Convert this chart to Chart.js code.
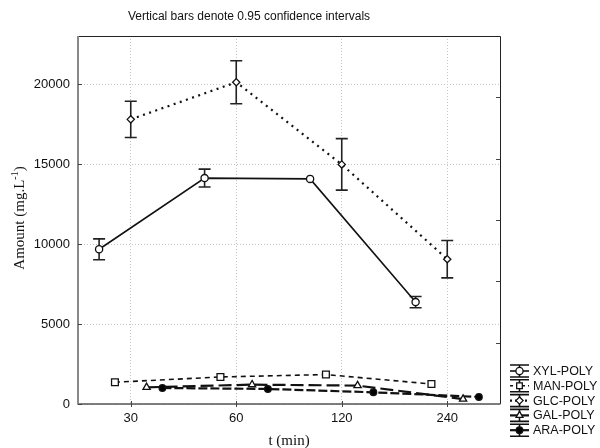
<!DOCTYPE html>
<html><head><meta charset="utf-8">
<script src="https://cdn.jsdelivr.net/npm/chart.js@4/dist/chart.umd.min.js"></script>
<style>html,body{margin:0;padding:0;background:#fff}#wrap{width:600px;height:448px;position:relative}</style>
</head><body><div id="wrap"><canvas id="c" width="600" height="448"></canvas></div>
<script>
// ---- data ----
const categories = ['30', '60', '120', '240'];
const seriesNames = ['XYL-POLY', 'MAN-POLY', 'GLC-POLY', 'GAL-POLY', 'ARA-POLY'];
const xylPoly = [9670, 14120, 14070, 6370];
const xylCI   = [650, 560, 0, 350];
const manPoly = [1360, 1690, 1840, 1250];
const manCI   = [0, 0, 0, 0];
const glcPoly = [17790, 20110, 14975, 9050];
const glcCI   = [1130, 1340, 1610, 1170];
const galPoly = [1040, 1210, 1150, 310];
const galCI   = [0, 0, 0, 0];
const araPoly = [1000, 940, 730, 440];
const araCI   = [0, 0, 0, 0];
const yTickValues = [0, 5000, 10000, 15000, 20000];
const titleText = 'Vertical bars denote 0.95 confidence intervals';
const xTitle = 't (min)';

// ---- styles ----
const values = [xylPoly, manPoly, glcPoly, galPoly, araPoly];
const cis = [xylCI, manCI, glcCI, galCI, araCI];
const offsets = [-0.3, -0.15, 0, 0.15, 0.3];
const styles = [
  {dash: [], width: 1.6, point: 'circle', r: 3.6, fill: '#fff', legDash: []},
  {dash: [5, 4], width: 1.6, point: 'rect', r: 4.8, fill: '#fff', legDash: [3, 3]},
  {dash: [2, 4.5], width: 2.2, point: 'rectRot', r: 3.6, fill: '#fff', legDash: [2, 3]},
  {dash: [13, 5], width: 2.2, point: 'triangle', r: 4.2, fill: '#fff', legDash: []},
  {dash: [9, 3], width: 2.2, point: 'circle', r: 3.3, fill: '#000', legDash: []}
];
const INK = '#111';

const datasets = values.map((vals, s) => ({
  label: seriesNames[s],
  data: vals.map((v, i) => ({x: i + offsets[s], y: v})),
  ci: cis[s],
  borderColor: INK,
  borderWidth: styles[s].width,
  borderDash: styles[s].dash,
  pointStyle: styles[s].point,
  pointRadius: styles[s].r,
  pointBorderWidth: 1.3,
  pointBackgroundColor: styles[s].fill,
  pointBorderColor: INK,
  fill: false,
  tension: 0
}));

function drawMarker(ctx, style, r, fill, x, y) {
  ctx.save();
  ctx.setLineDash([]);
  ctx.lineWidth = 1.3;
  ctx.strokeStyle = INK;
  ctx.fillStyle = fill;
  if (Chart.helpers && Chart.helpers.drawPoint) {
    Chart.helpers.drawPoint(ctx, {pointStyle: style, radius: r, borderWidth: 1.3, rotation: 0}, x, y);
  } else {
    ctx.beginPath(); ctx.arc(x, y, r, 0, Math.PI * 2); ctx.fill(); ctx.stroke();
  }
  ctx.restore();
}

const decor = {
  id: 'decor',
  beforeDatasetsDraw(chart) {
    const {ctx, scales: {x, y}} = chart;
    ctx.save();
    ctx.strokeStyle = '#222';
    ctx.lineWidth = 1.6;
    ctx.setLineDash([]);
    chart.data.datasets.forEach(ds => {
      ds.data.forEach((p, i) => {
        const e = ds.ci[i];
        if (!e) return;
        const px = x.getPixelForValue(p.x);
        const t = y.getPixelForValue(p.y + e), b = y.getPixelForValue(p.y - e);
        ctx.beginPath();
        ctx.moveTo(px, t); ctx.lineTo(px, b);
        ctx.moveTo(px - 6, t); ctx.lineTo(px + 6, t);
        ctx.moveTo(px - 6, b); ctx.lineTo(px + 6, b);
        ctx.stroke();
      });
    });
    ctx.restore();
  },
  afterDraw(chart) {
    const {ctx, chartArea: a, scales: {x, y}} = chart;
    ctx.save();
    ctx.setLineDash([]);
    // frame
    ctx.strokeStyle = '#222'; ctx.lineWidth = 1;
    ctx.beginPath();
    ctx.moveTo(a.left, a.top + 0.5); ctx.lineTo(a.right + 0.5, a.top + 0.5); ctx.lineTo(a.right + 0.5, a.bottom);
    ctx.stroke();
    ctx.strokeStyle = '#555'; ctx.lineWidth = 1.5;
    ctx.beginPath(); ctx.moveTo(a.left, a.bottom); ctx.lineTo(a.right + 0.5, a.bottom); ctx.stroke();
    ctx.strokeStyle = '#888'; ctx.lineWidth = 2;
    ctx.beginPath(); ctx.moveTo(a.left, a.top); ctx.lineTo(a.left, a.bottom + 0.7); ctx.stroke();
    // inner ticks
    ctx.strokeStyle = '#444'; ctx.lineWidth = 1;
    ctx.beginPath();
    yTickValues.forEach(v => { const py = Math.round(y.getPixelForValue(v)) + 0.5; ctx.moveTo(a.left, py); ctx.lineTo(a.left + 4, py); });
    categories.forEach((c, i) => { const px = Math.round(x.getPixelForValue(i)) + 0.5; ctx.moveTo(px, a.bottom - 3); ctx.lineTo(px, a.bottom + 3); });
    for (let k = 1; k < 6; k++) { const py = Math.round(a.top + k * (a.bottom - a.top) / 6) + 0.5; ctx.moveTo(a.right, py); ctx.lineTo(a.right - 4, py); }
    ctx.stroke();
    // title
    ctx.fillStyle = INK;
    ctx.font = '12px "Liberation Sans", Arial, sans-serif';
    ctx.textAlign = 'center'; ctx.textBaseline = 'middle';
    ctx.fillText(titleText, 249, 17);
    // x title
    ctx.font = '15px "Liberation Serif", "Times New Roman", serif';
    ctx.fillText(xTitle, (a.left + a.right) / 2, 441);
    // y title with superscript
    ctx.save();
    ctx.translate(20, 218);
    ctx.rotate(-Math.PI / 2);
    const p1 = 'Amount (mg.L', p2 = '-1', p3 = ')';
    const fMain = '15px "Liberation Serif", "Times New Roman", serif';
    const fSup = '10px "Liberation Serif", "Times New Roman", serif';
    ctx.font = fMain; const w1 = ctx.measureText(p1).width, w3 = ctx.measureText(p3).width;
    ctx.font = fSup; const w2 = ctx.measureText(p2).width;
    let sx = -(w1 + w2 + w3) / 2;
    ctx.textAlign = 'left';
    ctx.font = fMain; ctx.fillText(p1, sx, 0); sx += w1;
    ctx.font = fSup; ctx.fillText(p2, sx, -5); sx += w2;
    ctx.font = fMain; ctx.fillText(p3, sx, 0);
    ctx.restore();
    // legend
    const lx0 = 510, lx1 = 529, lcx = 519.5;
    seriesNames.forEach((name, s) => {
      const ly = 371 + s * 14.8;
      const st = styles[s];
      ctx.strokeStyle = INK;
      ctx.lineWidth = 1.6; ctx.setLineDash([]);
      ctx.beginPath();
      ctx.moveTo(lx0, ly - 6); ctx.lineTo(lx1, ly - 6);
      ctx.moveTo(lx0, ly + 6); ctx.lineTo(lx1, ly + 6);
      ctx.moveTo(lcx, ly - 6); ctx.lineTo(lcx, ly + 6);
      ctx.stroke();
      ctx.lineWidth = st.width; ctx.setLineDash(st.legDash);
      ctx.beginPath(); ctx.moveTo(lx0, ly); ctx.lineTo(lx1, ly); ctx.stroke();
      drawMarker(ctx, st.point, Math.min(st.r, 4), st.fill, lcx, ly);
      ctx.fillStyle = INK;
      ctx.font = '12.5px "Liberation Sans", Arial, sans-serif';
      ctx.textAlign = 'left'; ctx.textBaseline = 'middle';
      ctx.fillText(name, 533, ly + 0.5);
    });
    ctx.restore();
  }
};

new Chart(document.getElementById('c'), {
  type: 'line',
  data: {datasets},
  options: {
    responsive: false,
    animation: false,
    devicePixelRatio: 1,
    layout: {padding: {top: 36, right: 100, left: 0, bottom: 0}},
    plugins: {legend: {display: false}, title: {display: false}, tooltip: {enabled: false}},
    scales: {
      x: {
        type: 'linear', min: -0.5, max: 3.5,
        afterBuildTicks: s => { s.ticks = categories.map((c, i) => ({value: i})); },
        afterFit: s => { s.height = 44; },
        ticks: {callback: v => categories[v], autoSkip: false, maxRotation: 0, padding: 7,
                color: INK, font: {family: '"Liberation Sans", Arial, sans-serif', size: 13}},
        grid: {color: '#c4c4c4', lineWidth: 1, drawTicks: false},
        border: {display: false, dash: [1, 2]}
      },
      y: {
        min: 0, max: 23000,
        afterBuildTicks: s => { s.ticks = yTickValues.map(v => ({value: v})); },
        afterFit: s => { s.width = 78; },
        ticks: {padding: 8, color: INK, callback: v => String(v),
                font: {family: '"Liberation Sans", Arial, sans-serif', size: 13}},
        grid: {color: '#c4c4c4', lineWidth: 1, drawTicks: false},
        border: {display: false, dash: [1, 2]}
      }
    }
  },
  plugins: [decor]
});
</script></body></html>
